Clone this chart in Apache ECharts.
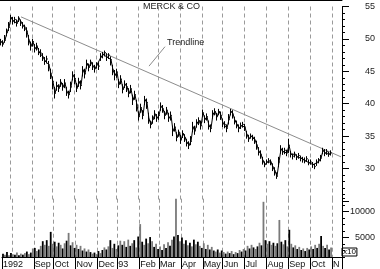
<!DOCTYPE html>
<html><head><meta charset="utf-8">
<script src="https://cdn.jsdelivr.net/npm/echarts@6/dist/echarts.min.js"></script>
<style>html,body{margin:0;padding:0;background:#fff}#c{width:380px;height:269px}</style>
</head><body><div id="c"></div>
<script>
const chartTitle = 'MERCK & CO';
const monthLabels = ['1992', '', 'Sep', 'Oct', 'Nov', 'Dec', '93', 'Feb', 'Mar', 'Apr', 'May', 'Jun', 'Jul', 'Aug', 'Sep', 'Oct', 'N'];
const monthSamples = [5, 11, 10, 11, 11, 10, 11, 10, 11, 11, 10, 11, 11, 11, 11, 11, 5];

const closePrice = [
49.6,49.2,49.8,51.0,51.8,53.3,52.8,53.0,52.4,53.2,52.6,52.1,51.8,51.2,49.8,48.9,49.6,48.5,48.9,48.0,
47.8,47.2,46.6,46.9,46.0,44.6,43.4,41.6,42.8,42.4,43.3,42.6,43.2,41.8,41.4,42.6,44.4,43.9,42.4,43.4,
42.8,45.2,44.6,46.2,45.6,46.4,45.8,45.4,46.0,45.8,47.2,47.6,47.9,47.2,47.5,46.8,45.2,44.4,44.9,43.0,
43.8,42.2,43.0,42.6,41.6,42.3,40.6,41.4,39.8,38.0,39.4,38.2,40.6,40.2,37.6,36.8,37.6,38.4,37.8,38.2,
39.6,39.2,38.2,39.0,37.8,38.2,35.8,36.4,34.8,35.6,34.4,35.4,34.8,34.0,33.6,34.2,36.4,35.8,37.0,37.4,
36.6,38.6,37.6,38.0,36.6,36.2,38.4,38.8,38.0,38.8,38.2,37.0,36.8,36.2,37.6,38.8,38.4,37.4,36.8,36.2,
36.6,36.8,36.4,35.2,34.6,35.0,34.8,34.4,33.6,32.6,32.2,31.2,30.6,31.0,31.2,31.0,30.2,29.6,28.8,31.0,
33.0,32.6,32.8,32.4,33.6,32.2,31.9,32.2,31.8,32.0,31.6,31.4,31.2,31.5,30.9,31.0,30.6,30.3,30.9,31.2,
31.6,32.8,32.4,32.6,32.2,32.4
];
const highPrice = [
50.0,49.8,50.6,51.6,52.6,53.7,53.4,53.4,53.0,53.5,53.0,52.6,52.2,51.8,50.6,49.6,50.0,49.2,49.4,48.6,
48.4,47.8,47.2,47.4,46.6,45.4,44.2,42.6,43.4,43.0,43.8,43.2,43.8,42.6,42.0,43.4,45.0,44.6,43.2,44.0,
43.6,45.8,45.4,46.8,46.2,46.8,46.4,46.0,46.4,46.4,47.8,48.0,48.2,47.8,47.8,47.3,46.0,45.2,45.4,43.8,
44.4,43.0,43.6,43.2,42.4,42.9,41.4,42.0,40.6,38.8,40.0,39.0,41.2,40.8,38.6,37.4,38.2,39.0,38.4,38.8,
40.2,39.8,38.9,39.5,38.6,38.8,36.6,37.0,35.6,36.0,35.2,35.9,35.3,34.6,34.2,35.0,37.2,36.6,37.6,37.9,
37.4,39.1,38.2,38.5,37.4,36.8,39.0,39.3,38.6,39.2,38.8,37.7,37.3,36.8,38.4,39.2,39.0,38.0,37.4,36.8,
37.1,37.2,36.9,35.8,35.2,35.4,35.2,34.9,34.3,33.3,32.8,31.8,31.1,31.4,31.6,31.4,30.8,30.2,29.4,31.8,
33.6,33.2,33.2,32.9,34.6,32.7,32.3,32.6,32.2,32.4,32.0,31.8,31.7,31.9,31.4,31.4,31.0,30.7,31.4,31.6,
32.1,33.2,33.0,33.0,32.6,32.8
];
const lowPrice = [
49.0,48.8,49.4,50.4,51.2,52.6,52.2,52.4,51.9,52.6,52.0,51.6,51.2,50.2,49.0,48.2,48.8,47.9,48.2,47.5,
47.2,46.6,46.0,46.2,45.0,43.8,42.2,40.8,42.0,41.8,42.6,42.0,42.4,41.2,40.8,41.8,43.6,43.0,41.8,42.6,
42.2,44.2,43.9,45.4,45.0,45.8,45.2,44.8,45.4,45.2,46.6,47.0,47.3,46.6,46.9,45.9,44.4,43.6,44.0,42.4,
43.0,41.6,42.4,41.8,41.0,41.6,39.8,40.6,38.8,37.4,38.6,37.6,39.8,39.2,36.9,36.2,36.9,37.6,37.2,37.5,
38.9,38.6,37.6,38.3,37.2,37.4,35.0,35.7,34.2,34.9,33.8,34.7,34.1,33.4,33.0,33.6,35.6,35.2,36.3,36.7,
36.0,37.9,37.0,37.4,36.0,35.6,37.7,38.2,37.4,38.2,37.5,36.4,36.2,35.6,36.8,38.2,37.7,36.8,36.2,35.6,
36.1,36.3,35.8,34.6,34.1,34.6,34.3,33.8,32.9,32.0,31.5,30.6,30.2,30.6,30.8,30.5,29.6,28.9,28.4,30.2,
32.3,32.1,32.2,31.9,32.4,31.7,31.4,31.7,31.3,31.5,31.1,30.9,30.8,31.0,30.5,30.6,30.1,29.9,30.4,30.8,
31.1,32.2,31.9,32.1,31.8,32.0
];

const volume = [
1900,1700,2200,1600,2000,1800,1700,2100,1600,1900,1700,2000,2300,1800,2100,2900,3000,2400,2700,3400,
4300,3600,4500,3400,6100,3800,4200,3300,4000,3600,2900,3900,4400,5900,3500,4100,3000,3600,2800,3400,
2500,2900,2300,2700,2200,1900,2100,1800,2400,2000,2600,3100,2700,3300,4500,3000,3800,2800,3500,4400,
3600,4300,3200,4600,3400,3900,4500,3100,5200,7600,4200,3600,4800,3900,5100,4300,3200,3800,2800,3300,
2600,3700,3000,4100,3400,4600,5200,12500,5500,4300,5000,3800,4500,3500,4000,3300,4600,3700,4200,3400,
3000,3900,2800,3600,2700,3200,2500,2300,2700,2100,2500,2200,1900,2300,2000,2400,1800,2200,2000,2600,
2300,2800,2500,3400,2900,3600,3100,2800,3300,4000,3500,11900,4500,3800,4300,3600,4000,3400,3900,8400,
4200,3700,4500,3300,6500,3800,3100,3500,2800,3200,2600,2900,2400,3000,2700,3300,2800,3600,3000,3800,
5300,3400,3000,3600,2700,3100
];

const trendline = [[10, 53.4], [170, 31.8]];
const trendNoteLeader = [[74, 45.8], [82, 48.8]];
const trendNoteAt = [83, 49.4];
const trendNoteText = 'Trendline';
const volumeUnit = 'x10';

const categories = [];
const monthStart = {};
let k = 0;
monthLabels.forEach((m, i) => {
  monthStart[k] = m;
  for (let j = 0; j < monthSamples[i]; j++) { categories.push(i + '-' + j); k++; }
});
const isSplit = (i) => i > 0 && monthStart[i] !== undefined;
const isLabel = (i) => monthStart[i] !== undefined && monthStart[i] !== '';
const hlc = closePrice.map((c, i) => [c, c, lowPrice[i], highPrice[i]]);

const FONT = 'Liberation Sans, Arial, sans-serif';
const dashed = { show: true, interval: (i) => isSplit(i), lineStyle: { color: '#9a9a9a', width: 1, type: [4, 3] } };

const chart = echarts.init(document.getElementById('c'), null, { renderer: 'canvas' });
chart.setOption({
  animation: false,
  backgroundColor: '#fff',
  textStyle: { fontFamily: FONT },
  title: { text: chartTitle, left: 143, top: 2, padding: 0,
    textStyle: { fontSize: 9, fontWeight: 'normal', color: '#222', fontFamily: FONT } },
  grid: [
    { left: 0, right: 38, top: 6.5, bottom: 68.1 },
    { left: 0, right: 38, top: 198.7, bottom: 12 },
    { left: 0, right: 38, top: 211.7, bottom: 31.4 }
  ],
  xAxis: [
    { gridIndex: 0, type: 'category', data: categories, position: 'top', offset: 6.5,
      axisLine: { show: true, lineStyle: { color: '#000', width: 1 } },
      axisTick: { show: false }, axisLabel: { show: false }, splitLine: dashed },
    { gridIndex: 1, type: 'category', data: categories, position: 'bottom',
      axisLine: { show: true, lineStyle: { color: '#000', width: 1 } },
      axisTick: { show: true, interval: (i) => isLabel(i), length: 12, lineStyle: { color: '#000' } },
      axisLabel: { show: true, interval: (i) => isLabel(i), formatter: (v, i) => monthStart[i] || '',
        align: 'left', margin: 3, fontSize: 9, color: '#111', fontFamily: FONT },
      splitLine: dashed },
    { gridIndex: 2, type: 'category', data: categories, show: false }
  ],
  yAxis: [
    { gridIndex: 0, type: 'value', position: 'right', min: 25, max: 55, interval: 5,
      axisLine: { show: true, lineStyle: { color: '#000' } },
      axisTick: { show: true, length: 7, lineStyle: { color: '#000' } },
      minorTick: { show: true, splitNumber: 5, length: 3, lineStyle: { color: '#000' } },
      splitLine: { show: false },
      axisLabel: { formatter: (v) => v >= 30 ? String(v) : '', align: 'right', margin: 33,
        fontSize: 9, color: '#222', fontFamily: FONT } },
    { gridIndex: 1, type: 'value', position: 'right', min: 1250, max: 12500, interval: 1250,
      axisLine: { show: true, lineStyle: { color: '#000' } },
      axisTick: { show: true, length: 3, lineStyle: { color: '#000' } },
      splitLine: { show: false }, axisLabel: { show: false },
      name: volumeUnit, nameLocation: 'start', nameGap: -9,
      nameTextStyle: { fontSize: 8, color: '#000', align: 'left', verticalAlign: 'top',
        borderColor: '#000', borderWidth: 1, padding: [0, 1, 0, 1], lineHeight: 8, fontFamily: FONT } },
    { gridIndex: 2, type: 'value', position: 'right', min: 5000, max: 10000, interval: 5000,
      axisLine: { show: false },
      axisTick: { show: true, length: 7, lineStyle: { color: '#000' } },
      splitLine: { show: false },
      axisLabel: { formatter: (v) => String(v), align: 'right', margin: 33, fontSize: 9, color: '#222', fontFamily: FONT } }
  ],
  series: [
    { type: 'line', xAxisIndex: 0, yAxisIndex: 0, data: trendline, symbol: 'none', silent: true,
      lineStyle: { color: '#8c8c8c', width: 1 }, z: 2,
      markLine: { silent: true, symbol: 'none', label: { show: false },
        lineStyle: { color: '#8c8c8c', width: 1, type: 'solid' },
        data: [[{ coord: trendNoteLeader[0] }, { coord: trendNoteLeader[1] }]] },
      markPoint: { silent: true, symbol: 'circle', symbolSize: 0,
        label: { show: true, position: 'right', distance: 0, formatter: trendNoteText,
          fontSize: 9, color: '#222', fontFamily: FONT },
        data: [{ coord: trendNoteAt }] } },
    { type: 'candlestick', xAxisIndex: 0, yAxisIndex: 0, data: hlc, barWidth: 1.5, z: 3,
      itemStyle: { color: '#000', color0: '#000', borderColor: '#000', borderColor0: '#000', borderWidth: 1 } },
    { type: 'line', xAxisIndex: 0, yAxisIndex: 0, data: closePrice, symbol: 'none',
      lineStyle: { color: '#000', width: 1 }, z: 3 },
    { type: 'bar', xAxisIndex: 1, yAxisIndex: 1, data: volume, barWidth: 1.8,
      itemStyle: { color: (p) => p.dataIndex % 2 ? '#7a7a7a' : '#000' } }
  ]
});
</script></body></html>
